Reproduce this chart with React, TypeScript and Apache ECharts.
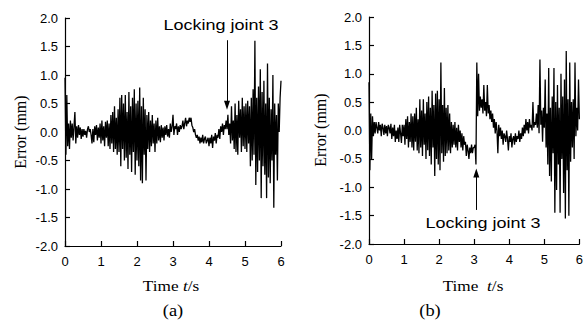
import React, { useEffect, useRef } from "react";
import * as echarts from "echarts";

const DT = 0.025;
const xTicks = [0, 1, 2, 3, 4, 5, 6];
const yTicks = [-2.0, -1.5, -1.0, -0.5, 0.0, 0.5, 1.0, 1.5, 2.0];

// Panel (a): error values every 0.025 s from t = 0 to 6 s
const errorA = [
  0.95, -0.40, 0.65, -0.25, 0.15, -0.30, 0.20, -0.10, 0.15, -0.15,
  0.10, 0.35, -0.20, 0.10, -0.10, 0.12, -0.05, 0.08, -0.12, 0.05,
  -0.08, 0.05, -0.05, 0.02, -0.10, 0.05, 0.10, 0.00, 0.05, -0.05,
  -0.20, 0.05, -0.18, 0.10, -0.05, 0.12, -0.15, 0.08, -0.10, 0.15,
  -0.20, 0.20, -0.15, 0.10, -0.25, 0.18, -0.10, 0.20, -0.25, 0.15,
  -0.30, 0.30, -0.20, 0.35, -0.35, 0.45, -0.30, 0.25, -0.40, 0.40,
  -0.35, 0.60, -0.60, 0.65, -0.30, 0.50, -0.50, 0.65, -0.45, 0.35,
  -0.65, 0.70, -0.40, 0.45, -0.70, 0.60, -0.35, 0.75, -0.75, 0.50,
  -0.50, 0.55, -0.60, 0.78, -0.85, 0.45, -0.90, 0.60, -0.40, 0.40,
  -0.85, 0.30, -0.30, 0.35, -0.35, 0.20, -0.25, 0.30, -0.20, 0.15,
  -0.35, 0.20, -0.20, 0.25, -0.15, 0.10, -0.18, 0.12, -0.10, 0.08,
  -0.15, 0.10, -0.05, 0.12, -0.08, 0.05, -0.10, 0.15, 0.00, 0.10,
  0.30, -0.05, 0.10, 0.05, 0.15, -0.05, 0.10, 0.00, 0.12, 0.05,
  0.10, 0.20, 0.05, 0.15, 0.25, 0.10, 0.20, 0.15, 0.25, 0.18,
  0.25, 0.12, 0.08, 0.00, 0.05, -0.05, -0.10, -0.05, -0.15, -0.08,
  -0.20, -0.10, -0.18, -0.05, -0.20, -0.12, -0.08, -0.20, -0.15, -0.10,
  -0.25, -0.10, -0.20, -0.05, -0.28, -0.08, -0.15, -0.02, -0.20, -0.05,
  -0.10, 0.05, -0.12, 0.10, 0.00, 0.15, -0.05, 0.12, 0.05, 0.20,
  0.05, 0.30, -0.05, 0.15, -0.20, 0.45, -0.15, 0.20, -0.30, 0.50,
  -0.35, 0.30, -0.40, 0.55, -0.10, 0.40, -0.35, 0.60, -0.25, 0.45,
  -0.30, 0.50, -0.35, 0.55, -0.20, 0.45, -0.60, 0.60, -0.50, 0.75,
  -0.40, 1.60, -0.93, 0.60, -0.70, 0.80, -0.50, 1.10, -1.16, 0.70,
  -0.60, 0.90, -0.75, 0.50, -1.16, 1.20, -0.80, 0.60, -0.90, 0.40,
  -0.50, 1.00, -1.33, 0.50, -0.40, 0.30, -0.85, 0.50, 0.00, 0.60,
  0.90,
];

// Panel (b): error values every 0.025 s from t = 0 to 6 s
const errorB = [
  0.85, -0.70, 0.30, -0.50, 0.25, -0.10, 0.15, -0.05, 0.15, 0.05,
  -0.05, 0.15, 0.00, 0.10, -0.10, 0.12, 0.05, -0.08, 0.10, -0.05,
  0.08, -0.10, 0.10, 0.05, -0.05, 0.12, -0.15, 0.05, -0.10, 0.10,
  -0.20, 0.00, -0.15, 0.05, -0.20, 0.10, -0.05, -0.22, 0.10, -0.10,
  0.10, -0.25, 0.20, -0.15, 0.25, -0.30, 0.15, -0.20, 0.30, -0.30,
  0.25, -0.35, 0.30, -0.20, 0.40, -0.35, 0.20, -0.40, 0.55, -0.30,
  0.35, -0.45, 0.55, -0.25, 0.30, -0.50, 0.50, -0.35, 0.60, -0.45,
  0.40, -0.60, 0.70, -0.30, 0.45, -0.80, 0.65, -0.50, 0.70, -0.60,
  0.55, -0.70, 1.20, -0.40, 0.45, -0.55, 0.75, -0.45, 0.40, -0.40,
  0.45, -0.35, 0.30, -0.40, 0.15, -0.30, 0.10, -0.25, 0.15, -0.30,
  0.05, -0.35, 0.10, -0.20, 0.00, -0.30, -0.05, -0.35, -0.10, -0.25,
  -0.20, -0.45, -0.25, -0.35, -0.50, -0.30, -0.40, -0.25, -0.40, -0.30,
  -0.30, -0.25, -0.60, 1.20, 0.25, 1.00, 0.35, 0.60, 0.40, 0.55,
  0.30, 0.80, 0.35, 0.50, 0.25, 0.80, 0.30, 0.45, 0.20, 0.35,
  0.15, 0.30, 0.05, 0.20, -0.05, 0.15, 0.00, -0.40, 0.10, -0.10,
  0.05, -0.15, 0.00, -0.25, -0.05, -0.10, -0.20, 0.00, -0.15, -0.35,
  -0.10, -0.20, -0.05, -0.30, -0.15, -0.10, -0.25, -0.05, -0.20, -0.10,
  -0.15, 0.00, -0.20, -0.05, -0.15, 0.05, -0.10, 0.10, -0.05, 0.20,
  0.00, 0.15, -0.05, 0.20, 0.05, 0.10, 0.00, 0.50, 0.05, 0.15,
  0.10, 0.30, 0.05, 0.45, -0.05, 1.25, 0.10, 0.35, -0.20, 0.40,
  0.05, 0.90, -0.30, 0.30, -0.60, 1.10, -0.80, 0.40, -0.90, 0.60,
  -0.40, 1.10, -1.45, 0.50, -1.05, 0.80, -0.60, 0.40, -1.45, 1.00,
  -0.50, 0.60, -1.10, 0.90, -1.55, 1.40, -0.70, 0.55, -1.50, 1.20,
  -0.55, 0.50, -0.30, 0.55, -0.50, 1.20, -0.10, 0.40, 0.00, 0.90,
  0.20,
];

// Annotation arrows: [time, tail value, tip value]
const arrowA = [4.5, 1.61, 0.47];
const arrowB = [3.06, -1.4, -0.75];

const annotationText = "Locking joint 3";
const panelLabels = ["(a)", "(b)"];

const SANS = "Liberation Sans";
const SERIF = "Liberation Serif";

function toPairs(vals: number[]) {
  return vals.map((v, i) => [+(i * DT).toFixed(3), v]);
}

function xAxisCfg(gridIndex: number) {
  return {
    type: "value",
    gridIndex,
    min: xTicks[0],
    max: xTicks[xTicks.length - 1],
    interval: 1,
    axisLine: { show: true, onZero: false, lineStyle: { color: "#000", width: 1.2 } },
    axisTick: { show: true, inside: true, length: 5, lineStyle: { color: "#000", width: 1.2 } },
    axisLabel: { color: "#000", fontSize: 13, fontFamily: SANS, margin: 9 },
    splitLine: { show: false },
  };
}

function yAxisCfg(gridIndex: number) {
  return {
    type: "value",
    gridIndex,
    min: yTicks[0],
    max: yTicks[yTicks.length - 1],
    interval: 0.5,
    axisLine: { show: true, onZero: false, lineStyle: { color: "#000", width: 1.2 } },
    axisTick: { show: true, inside: true, length: 5, lineStyle: { color: "#000", width: 1.2 } },
    axisLabel: {
      color: "#000",
      fontSize: 13,
      fontFamily: SANS,
      margin: 7,
      formatter: (v: number) => v.toFixed(1),
    },
    splitLine: { show: false },
  };
}

function arrowMark(arrow: number[]) {
  return {
    silent: true,
    symbol: ["none", "triangle"],
    symbolSize: [6, 9],
    symbolRotate: arrow[2] > arrow[1] ? 0 : 180,
    label: { show: false },
    lineStyle: { color: "#000", width: 1, type: "solid" },
    data: [[{ coord: [arrow[0], arrow[1]] }, { coord: [arrow[0], arrow[2]] }]],
  };
}

const timeRich = {
  n: { fontFamily: SERIF, fontSize: 15, fontWeight: "normal", fill: "#000", stroke: "none", lineWidth: 0 },
  i: { fontFamily: SERIF, fontSize: 15, fontWeight: "normal", fontStyle: "italic", fill: "#000", stroke: "none", lineWidth: 0 },
};

function plainText(text: string, family: string, size: number) {
  return {
    text,
    fontFamily: family,
    fontSize: size,
    fontWeight: "normal",
    fill: "#000",
    stroke: "none",
    lineWidth: 0,
    align: "center",
    verticalAlign: "middle",
  };
}

export default function App() {
  const ref = useRef<HTMLDivElement>(null);
  useEffect(() => {
    if (!ref.current) return;
    const chart = echarts.init(ref.current, undefined, { renderer: "svg" });
    chart.setOption({
      animation: false,
      backgroundColor: "#fff",
      grid: [
        { left: 65, top: 18, width: 216, height: 228 },
        { left: 369, top: 17, width: 214, height: 227 },
      ],
      xAxis: [xAxisCfg(0), xAxisCfg(1)],
      yAxis: [yAxisCfg(0), yAxisCfg(1)],
      series: [
        {
          type: "line",
          xAxisIndex: 0,
          yAxisIndex: 0,
          data: toPairs(errorA),
          showSymbol: false,
          lineStyle: { color: "#000", width: 1.3 },
          markLine: arrowMark(arrowA),
        },
        {
          type: "line",
          xAxisIndex: 1,
          yAxisIndex: 1,
          data: toPairs(errorB),
          showSymbol: false,
          lineStyle: { color: "#000", width: 1.3 },
          markLine: arrowMark(arrowB),
        },
      ],
      graphic: [
        { type: "text", x: 20, y: 132, rotation: Math.PI / 2, style: plainText("Error (mm)", SERIF, 16) },
        { type: "text", x: 320, y: 130, rotation: Math.PI / 2, style: plainText("Error (mm)", SERIF, 16) },
        {
          type: "text",
          x: 171,
          y: 286,
          scaleX: 1.15,
          style: { text: "{n|Time }{i|t}{n|/s}", rich: timeRich, stroke: "none", lineWidth: 0, align: "center", verticalAlign: "middle" },
        },
        {
          type: "text",
          x: 473,
          y: 286,
          scaleX: 1.15,
          style: { text: "{n|Time  }{i|t}{n|/s}", rich: timeRich, stroke: "none", lineWidth: 0, align: "center", verticalAlign: "middle" },
        },
        { type: "text", x: 173, y: 311, scaleX: 1.15, style: plainText(panelLabels[0], SERIF, 16) },
        { type: "text", x: 430, y: 311, scaleX: 1.15, style: plainText(panelLabels[1], SERIF, 16) },
        { type: "text", x: 221, y: 25, scaleX: 1.2, style: plainText(annotationText, SANS, 15) },
        { type: "text", x: 483, y: 223, scaleX: 1.2, style: plainText(annotationText, SANS, 15) },
      ],
    });
    return () => chart.dispose();
  }, []);
  return (
    <div
      ref={ref}
      style={{ position: "fixed", left: 0, top: 0, width: 586, height: 326, background: "#fff" }}
    />
  );
}
